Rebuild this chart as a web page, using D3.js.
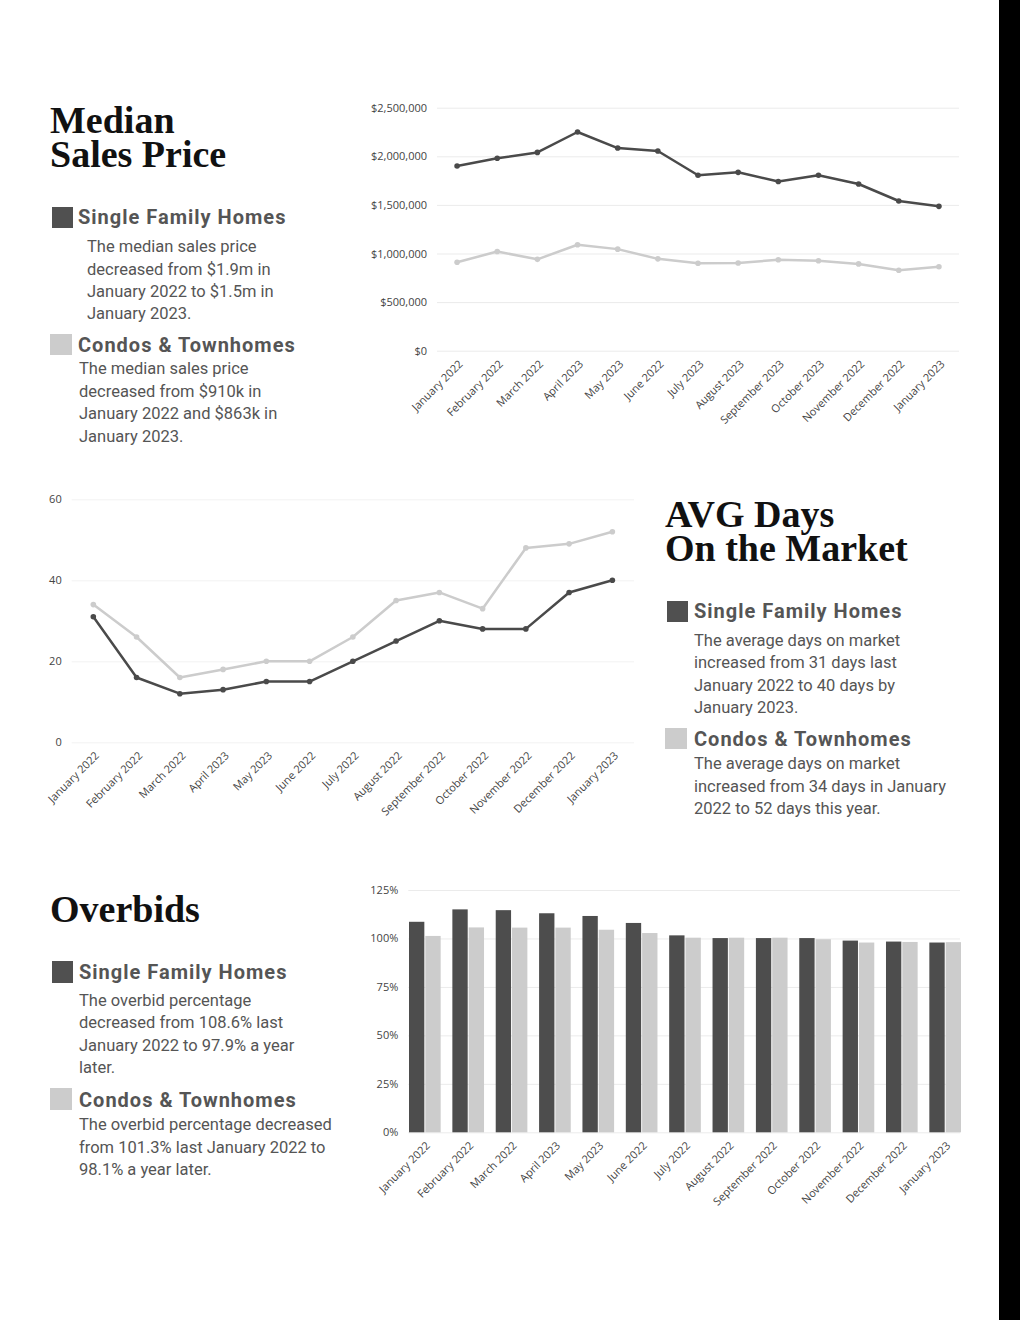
<!DOCTYPE html>
<html>
<head>
<meta charset="utf-8">
<script src="https://cdn.jsdelivr.net/npm/d3@7"></script>
<style>
  html, body { margin: 0; padding: 0; background: #fff; }
  svg { display: block; }
  .title { font-family: "Liberation Serif", serif; font-weight: 700; font-size: 38px; fill: #111; }
  .head { font-family: Roboto, sans-serif; font-weight: 700; font-size: 20px; letter-spacing: 1px; fill: #555; }
  .body { font-family: Roboto, sans-serif; font-size: 16.5px; fill: #555; }
  .tick text { font-family: "Open Sans", sans-serif; fill: #444; }
</style>
</head>
<body>
<svg id="page" width="1020" height="1320"></svg>
<script>
// labels as they appear under each chart
const priceMonths = ['January 2022', 'February 2022', 'March 2022', 'April 2023', 'May 2023', 'June 2022', 'July 2023',
  'August 2023', 'September 2023', 'October 2023', 'November 2022', 'December 2022', 'January 2023'];
const months = ['January 2022', 'February 2022', 'March 2022', 'April 2023', 'May 2023', 'June 2022', 'July 2022',
  'August 2022', 'September 2022', 'October 2022', 'November 2022', 'December 2022', 'January 2023'];

// median sales price
const priceSFH = [1900000, 1980000, 2040000, 2250000, 2085000, 2055000, 1805000, 1835000, 1740000, 1805000, 1715000, 1540000, 1485000];
const priceCondo = [910000, 1020000, 940000, 1090000, 1045000, 945000, 900000, 903000, 935000, 925000, 893000, 828000, 863000];
const priceTicks = [0, 500000, 1000000, 1500000, 2000000, 2500000];

// avg days on market
const daysSFH = [31, 16, 12, 13, 15, 15, 20, 25, 30, 28, 28, 37, 40];
const daysCondo = [34, 26, 16, 18, 20, 20, 26, 35, 37, 33, 48, 49, 52];
const daysTicks = [0, 20, 40, 60];

// overbid percentage
const overbidSFH = [108.6, 115.0, 114.6, 113.0, 111.6, 108.0, 101.6, 100.2, 100.2, 100.2, 98.9, 98.4, 97.9];
const overbidCondo = [101.3, 105.7, 105.6, 105.6, 104.5, 102.8, 100.4, 100.4, 100.4, 99.6, 97.9, 98.2, 98.1];
const overbidTicks = [0, 25, 50, 75, 100, 125];

const dark = '#4a4a4a';
const light = '#cccccc';

const svg = d3.select('#page');
svg.append('rect').attr('width', 1020).attr('height', 1320).attr('fill', '#fff');
svg.append('rect').attr('x', 999).attr('y', 0).attr('width', 21).attr('height', 1320).attr('fill', '#000');

// y axis with grid lines
function drawYAxis(g, y, ticks, fmt, x0, x1, gridColor) {
    const ax = g.append('g')
        .attr('transform', `translate(${x0},0)`)
        .call(d3.axisLeft(y).tickValues(ticks).tickFormat(fmt).tickSize(-(x1 - x0)).tickPadding(10));
    ax.select('.domain').remove();
    ax.selectAll('.tick line').attr('stroke', gridColor).attr('stroke-width', 1);
    ax.selectAll('.tick text').style('font-size', '11px');
}

function drawXAxis(g, x, y0) {
    const ax = g.append('g')
        .attr('transform', `translate(0,${y0})`)
        .call(d3.axisBottom(x).tickSize(0));
    ax.select('.domain').remove();
    ax.selectAll('.tick text')
        .attr('y', 0).attr('dy', 0)
        .attr('transform', 'translate(6,14) rotate(-45)')
        .style('text-anchor', 'end')
        .style('font-size', '11px');
}

function drawLines(g, x, y, labels, series) {
    series.forEach(s => {
        const pts = labels.map((m, i) => [x(m), y(s.values[i])]);
        g.append('path')
            .attr('d', d3.line()(pts))
            .attr('fill', 'none')
            .attr('stroke', s.color)
            .attr('stroke-width', 2.5)
            .attr('stroke-linejoin', 'round');
        g.selectAll(null).data(pts).join('circle')
            .attr('cx', d => d[0]).attr('cy', d => d[1]).attr('r', 2.8)
            .attr('fill', s.color);
    });
}

// ---- chart 1: median sales price
{
    const g = svg.append('g');
    const x = d3.scalePoint().domain(priceMonths).range([437, 959]).padding(0.5);
    const y = d3.scaleLinear().domain([0, 2500000]).range([350.7, 107.7]);
    drawYAxis(g, y, priceTicks, d => '$' + d3.format(',')(d), 437, 959, '#ebebeb');
    drawXAxis(g, x, 350.7);
    drawLines(g, x, y, priceMonths, [
        { values: priceCondo, color: light },
        { values: priceSFH, color: dark }
    ]);
}

// ---- chart 2: avg days on market
{
    const g = svg.append('g');
    const x = d3.scalePoint().domain(months).range([71.7, 634]).padding(0.5);
    const y = d3.scaleLinear().domain([0, 60]).range([742.3, 499.3]);
    drawYAxis(g, y, daysTicks, d3.format('d'), 71.7, 634, '#f2f2f2');
    drawXAxis(g, x, 742.3);
    drawLines(g, x, y, months, [
        { values: daysCondo, color: light },
        { values: daysSFH, color: dark }
    ]);
}

// ---- chart 3: overbids
{
    const g = svg.append('g');
    const x = d3.scaleBand().domain(months).range([409, 961]).paddingInner(0.27).paddingOuter(0);
    const sub = d3.scaleBand().domain(['sfh', 'condo']).range([0, x.bandwidth()]).paddingInner(0.06);
    const y = d3.scaleLinear().domain([0, 125]).range([1132.3, 890]);
    drawYAxis(g, y, overbidTicks, d => d + '%', 408.3, 960, '#ebebeb');
    drawXAxis(g, x, 1132.3);
    const rows = months.map((m, i) => ({ m, sfh: overbidSFH[i], condo: overbidCondo[i] }));
    const grp = g.selectAll('.grp').data(rows).join('g')
        .attr('transform', d => `translate(${x(d.m)},0)`);
    grp.append('rect')
        .attr('x', sub('sfh')).attr('width', sub.bandwidth())
        .attr('y', d => y(d.sfh)).attr('height', d => y(0) - y(d.sfh))
        .attr('fill', '#4d4d4d');
    grp.append('rect')
        .attr('x', sub('condo')).attr('width', sub.bandwidth())
        .attr('y', d => y(d.condo)).attr('height', d => y(0) - y(d.condo))
        .attr('fill', light);
}

// ---- text blocks
function textBlock(cfg) {
    const g = svg.append('g');
    cfg.title.forEach((t, i) => {
        g.append('text').attr('class', 'title').attr('x', cfg.tx).attr('y', cfg.ty[i]).text(t);
    });
    cfg.items.forEach(it => {
        g.append('rect').attr('x', it.sq[0]).attr('y', it.sq[1]).attr('width', it.sq[2]).attr('height', it.sq[3])
            .attr('fill', it.color);
        g.append('text').attr('class', 'head').attr('x', it.hx).attr('y', it.hy).text(it.head);
        it.lines.forEach((l, i) => {
            g.append('text').attr('class', 'body').attr('x', it.bx).attr('y', it.by[i]).text(l);
        });
    });
}

textBlock({
    title: ['Median', 'Sales Price'], tx: 50, ty: [133, 167],
    items: [
        { sq: [52, 207, 21, 21], color: '#505050', head: 'Single Family Homes', hx: 78, hy: 224,
          bx: 87, by: [252, 275, 297, 319],
          lines: ['The median sales price', 'decreased from $1.9m in', 'January 2022 to $1.5m in', 'January 2023.'] },
        { sq: [50, 334, 22, 21], color: light, head: 'Condos & Townhomes', hx: 78, hy: 352,
          bx: 79, by: [374, 397, 419, 442],
          lines: ['The median sales price', 'decreased from $910k in', 'January 2022 and $863k in', 'January 2023.'] }
    ]
});

textBlock({
    title: ['AVG Days', 'On the Market'], tx: 665, ty: [527, 561],
    items: [
        { sq: [667, 601, 21, 21], color: '#505050', head: 'Single Family Homes', hx: 694, hy: 618,
          bx: 694, by: [646, 668, 691, 713],
          lines: ['The average days on market', 'increased from 31 days last', 'January 2022 to 40 days by', 'January 2023.'] },
        { sq: [665, 728, 22, 21], color: light, head: 'Condos & Townhomes', hx: 694, hy: 746,
          bx: 694, by: [769, 792, 814],
          lines: ['The average days on market', 'increased from 34 days in January', '2022 to 52 days this year.'] }
    ]
});

textBlock({
    title: ['Overbids'], tx: 50, ty: [922],
    items: [
        { sq: [52, 961, 21, 22], color: '#505050', head: 'Single Family Homes', hx: 79, hy: 979,
          bx: 79, by: [1006, 1028, 1051, 1073],
          lines: ['The overbid percentage', 'decreased from 108.6% last', 'January 2022 to 97.9% a year', 'later.'] },
        { sq: [50, 1088, 22, 22], color: light, head: 'Condos & Townhomes', hx: 79, hy: 1107,
          bx: 79, by: [1130, 1153, 1175],
          lines: ['The overbid percentage decreased', 'from 101.3% last January 2022 to', '98.1% a year later.'] }
    ]
});
</script>
</body>
</html>
